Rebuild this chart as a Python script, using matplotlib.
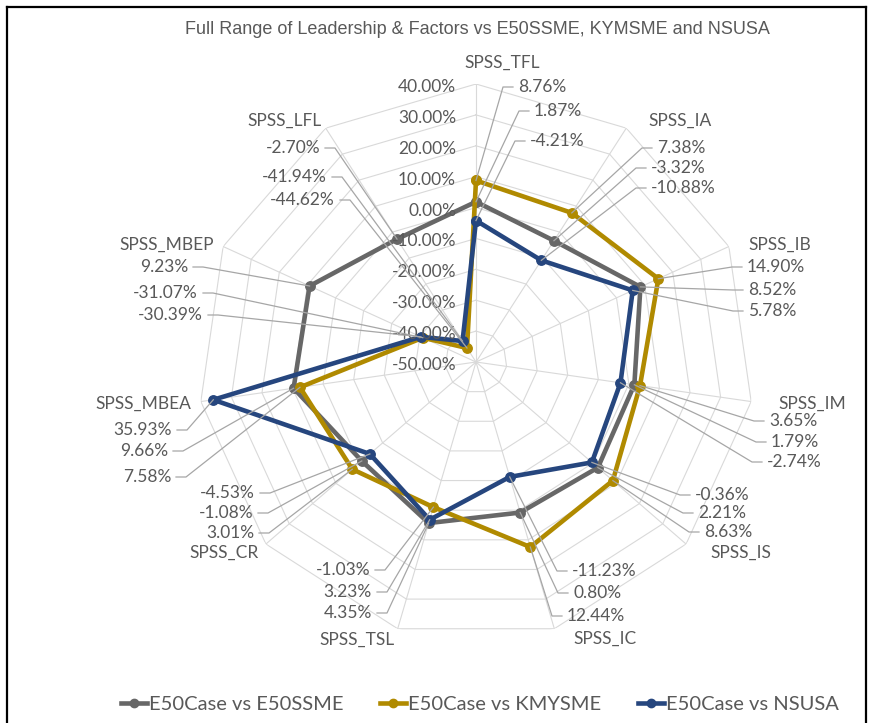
import numpy as np
import matplotlib.pyplot as plt
from matplotlib.lines import Line2D
import matplotlib.transforms as mtransforms

# ---- data ----
categories = ['SPSS_TFL', 'SPSS_IA', 'SPSS_IB', 'SPSS_IM', 'SPSS_IS', 'SPSS_IC',
              'SPSS_TSL', 'SPSS_CR', 'SPSS_MBEA', 'SPSS_MBEP', 'SPSS_LFL']
e50ssme = [1.87, -3.32, 8.52, 1.79, 2.21, 0.80, 4.35, -1.08, 9.66, 9.23, -2.70]
kymsme = [8.76, 7.38, 14.90, 3.65, 8.63, 12.44, -1.03, 3.01, 7.58, -31.07, -44.62]
nsusa = [-4.21, -10.88, 5.78, -2.74, -0.36, -11.23, 3.23, -4.53, 35.93, -30.39, -41.94]
series_names = ['E50Case vs E50SSME', 'E50Case vs KMYSME', 'E50Case vs NSUSA']
ring_ticks = [-50, -40, -30, -20, -10, 0, 10, 20, 30, 40]
title = 'Full Range of Leadership & Factors vs E50SSME, KYMSME and NSUSA'

# ---- styles / layout (image pixels) ----
W, H = 871, 723
colors = ['#676767', '#B08A00', '#26467E']
grid_color = '#D9D9D9'
text_color = '#595959'
lead_color = '#A6A6A6'
label_font = 'Lato'
cx, cy, R = 476, 362, 278

cat_pos = [(502, 63), (680, 121), (780, 245), (812, 404), (741, 553), (605, 639),
           (357, 640), (224, 553), (143, 404), (167, 245), (284, 121)]

# per category: side of the text anchor and (series index, x, y) for each value label
label_layout = [
    ('left', [(1, 518, 87), (0, 534, 111), (2, 530, 141)]),
    ('left', [(1, 657, 148), (0, 651, 168), (2, 651, 188)]),
    ('left', [(1, 747, 267), (0, 748, 290), (2, 748, 311)]),
    ('left', [(1, 769, 421), (0, 771, 442), (2, 767, 462)]),
    ('left', [(2, 695, 495), (0, 698, 513), (1, 704, 532)]),
    ('left', [(2, 572, 571), (0, 573, 593), (1, 567, 616)]),
    ('right', [(1, 370, 570), (2, 372, 592), (0, 372, 613)]),
    ('right', [(2, 255, 493), (0, 253, 513), (1, 254, 533)]),
    ('right', [(2, 172, 430), (0, 168, 451), (1, 171, 477)]),
    ('right', [(0, 188, 267), (1, 198, 293), (2, 203, 315)]),
    ('right', [(0, 320, 148), (2, 327, 177), (1, 335, 200)]),
]


def fxy(px, py):
    return px / W, 1 - py / H


fig = plt.figure(figsize=(W / 100, H / 100), dpi=100)
ax = fig.add_axes([(cx - R) / W, 1 - (cy + R) / H, 2 * R / W, 2 * R / H],
                  projection='polar')
ax.set_theta_zero_location('N')
ax.set_theta_direction(-1)
ax.set_ylim(ring_ticks[0], ring_ticks[-1])
ax.set_axis_off()

n = len(categories)
theta = np.linspace(0, 2 * np.pi, n, endpoint=False)
theta_c = np.append(theta, theta[0])

# polygon grid and spokes
for v in ring_ticks[1:]:
    ax.plot(theta_c, [v] * (n + 1), color=grid_color, lw=0.8, zorder=1)
for t in theta:
    ax.plot([t, t], [ring_ticks[0], ring_ticks[-1]], color=grid_color, lw=0.8, zorder=1)

# series
all_series = [e50ssme, kymsme, nsusa]
for vals, c, name in zip(all_series, colors, series_names):
    ax.plot(theta_c, list(vals) + [vals[0]], color=c, lw=3.3, marker='o', ms=6.8,
            solid_joinstyle='round', label=name, zorder=3, clip_on=False)

# radial tick labels
off = mtransforms.offset_copy(ax.transData, fig=fig, x=-20, y=-3, units='dots')
for v in ring_ticks:
    ax.text(0, v, f'{v:.2f}%', ha='right', va='center', transform=off,
            fontsize=12.5, color=text_color, family=label_font, zorder=4)

# category labels
for name, (px, py) in zip(categories, cat_pos):
    x, y = fxy(px, py)
    fig.text(x, y, name, ha='center', va='center', fontsize=12.5,
             color=text_color, family=label_font)

# data labels with leader lines
inv = fig.transFigure.inverted()
gap, stub = 5, 10
for i, (side, items) in enumerate(label_layout):
    for s, px, py in items:
        v = all_series[s][i]
        x, y = fxy(px, py)
        fig.text(x, y, f'{v:.2f}%', ha=side, va='center', fontsize=12.5,
                 color=text_color, family=label_font)
        d = ax.transData.transform((theta[i], v))
        ptx, pty = inv.transform(d)
        sgn = -1 if side == 'left' else 1
        x0 = (px + sgn * gap) / W
        x1 = (px + sgn * (gap + stub)) / W
        fig.add_artist(Line2D([x0, x1, ptx], [y, y, pty], color=lead_color, lw=0.9,
                              transform=fig.transFigure, zorder=2))

# title
tx, ty = fxy(477, 30)
fig.text(tx, ty, title, ha='center', va='center', fontsize=13,
         color=text_color, family='Liberation Sans')

# legend
handles = [Line2D([], [], color=c, lw=3.3, marker='o', ms=6) for c in colors]
lx, ly = fxy(480, 704)
fig.legend(handles, series_names, loc='center', bbox_to_anchor=(lx, ly), ncol=3,
           frameon=False, handlelength=1.3, handletextpad=0.1, columnspacing=1.8,
           prop={'family': label_font, 'size': 14.5}, labelcolor=text_color)

# outer frame
for xs, ys in [([7, 7], [H, 7]), ([7, 866], [7, 7]), ([866, 866], [7, H])]:
    fig.add_artist(Line2D([x / W for x in xs], [1 - y / H for y in ys],
                          color='black', lw=1.6, transform=fig.transFigure))

fig.savefig('out.png', dpi=100)
